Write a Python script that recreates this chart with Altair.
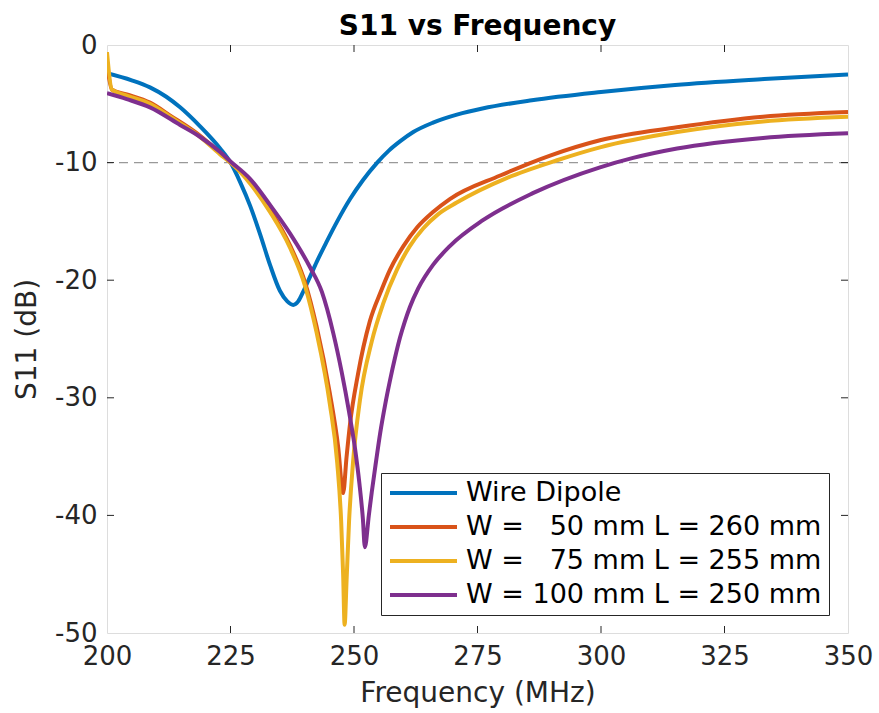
import altair as alt
import pandas as pd

# ---- data ----
series_names = [
    "Wire Dipole",
    "W = \u200750 mm L = 260 mm",
    "W = \u200775 mm L = 255 mm",
    "W = 100 mm L = 250 mm",
]
series_colors = ["#0072BD", "#D95319", "#EDB120", "#7E2F8E"]

wire_f = [200, 205, 208.7, 212, 214.8, 218.8, 222.9, 225, 227, 229, 231, 233, 235, 236.5,
          237.7, 238.7, 239.7, 241, 242.5, 244.5, 246.6, 249.2, 251.8, 254.7, 257, 259.3,
          262, 266, 271, 276, 286, 300, 315, 333, 350]
wire_db = [-2.4, -3.0, -3.6, -4.4, -5.3, -6.9, -8.8, -10.0, -11.7, -13.7, -16.1, -18.7, -20.9, -21.8,
           -22.1, -21.8, -21.0, -19.8, -18.4, -16.7, -15.0, -13.1, -11.5, -10.0, -9.0, -8.2,
           -7.4, -6.6, -5.9, -5.4, -4.7, -4.0, -3.4, -2.9, -2.5]

w50_f = [200, 201, 204, 208.7, 212.8, 218.8, 222.9, 225, 229, 233, 237, 240.1, 242.4, 245.1,
         246.8, 247.8, 248.5, 249.2, 250.8, 253.2, 255.5, 257.3, 260, 262.8, 266, 269.4, 279.6,
         289.7, 299.8, 315.4, 332.8, 350]
w50_db = [-1.7, -3.8, -4.2, -4.9, -6.0, -7.7, -9.2, -10.0, -11.6, -14.0, -17.0, -20.2, -23.9, -29.6,
          -34.2, -38.1, -35.0, -32.2, -28.0, -23.5, -20.9, -19.1, -17.1, -15.5, -14.2, -13.1, -11.1,
          -9.4, -8.1, -7.0, -6.1, -5.7]

w75_f = [200, 201, 204, 208.7, 212.8, 218.8, 222.9, 225, 229, 233, 237, 240.1, 242.4, 245.1,
         246.6, 247.4, 247.8, 248.1, 248.5, 249.0, 249.8, 251.2, 253.6, 255.9, 258.7, 261.3,
         264, 267, 270.8, 281, 291.1, 299.8, 315.4, 332.8, 350]
w75_db = [-0.6, -3.8, -4.3, -5.0, -6.1, -7.8, -9.3, -10.0, -11.8, -14.2, -17.2, -20.5, -24.4, -30.5,
          -35.5, -40.5, -45.0, -49.3, -45.5, -40.5, -35.5, -30.2, -25.2, -22.0, -19.1, -17.1,
          -15.6, -14.4, -13.4, -11.3, -9.8, -8.7, -7.4, -6.5, -6.1]

w100_f = [200, 204, 208.7, 214.8, 218.8, 222.9, 225, 229, 233, 237, 241.1, 243.5, 245.8, 247.5,
          249.0, 250.2, 251.1, 251.8, 252.2, 253.0, 253.6, 254.5, 255.3, 256.3, 257.3, 258.3,
          259.3, 260.3, 261.3, 263, 266, 269.4, 276.1, 286.2, 299.8, 306.5, 315.4, 332.8, 350]
w100_db = [-4.1, -4.6, -5.3, -6.8, -7.8, -9.1, -9.9, -11.4, -13.6, -16.0, -18.9, -21.0, -24.5, -27.8,
           -31.2, -34.3, -37.3, -40.3, -42.7, -40.0, -38.0, -35.3, -33.0, -30.6, -28.5, -26.6,
           -24.9, -23.5, -22.3, -20.7, -18.7, -17.1, -14.9, -12.6, -10.4, -9.6, -8.8, -7.9, -7.5]

x_ticks = [200, 225, 250, 275, 300, 325, 350]
y_ticks = [-50, -40, -30, -20, -10, 0]
inner_x_ticks = [225, 250, 275, 300, 325]
inner_y_ticks = [-40, -30, -20, -10]
threshold = [-10]

# ---- build table ----
rows = []
for name, fs, vs in zip(series_names, [wire_f, w50_f, w75_f, w100_f],
                        [wire_db, w50_db, w75_db, w100_db]):
    for i, (f, v) in enumerate(zip(fs, vs)):
        rows.append({"series": name, "f": f, "db": v, "i": i})
df = pd.DataFrame(rows)

W, H = 741, 588
FONT = "DejaVu Sans"
MINUS_FIX = "replace(datum.label, '\u2212', '-')"

xscale = alt.Scale(domain=[200, 350], nice=False, zero=False)
yscale = alt.Scale(domain=[-50, 0], nice=False, zero=False)

lines = alt.Chart(df).mark_line(strokeWidth=4, interpolate="monotone", clip=True).encode(
    x=alt.X("f:Q", scale=xscale,
            axis=alt.Axis(title="Frequency (MHz)", values=x_ticks, ticks=False, domain=False,
                          grid=False, labelFontSize=26, labelColor="#262626", labelPadding=10,
                          labelFlush=False, labelExpr=MINUS_FIX,
                          titleFontSize=28, titleFontWeight="normal", titleColor="#262626",
                          titlePadding=10, labelFont=FONT, titleFont=FONT)),
    y=alt.Y("db:Q", scale=yscale,
            axis=alt.Axis(title="S11 (dB)", values=y_ticks, ticks=False, domain=False,
                          grid=False, labelFontSize=26, labelColor="#262626", labelPadding=10,
                          labelFlush=False, labelExpr=MINUS_FIX,
                          titleFontSize=28, titleFontWeight="normal", titleColor="#262626",
                          titlePadding=13, labelFont=FONT, titleFont=FONT)),
    color=alt.Color("series:N",
                    scale=alt.Scale(domain=series_names, range=series_colors),
                    sort=series_names,
                    legend=alt.Legend(title=None, orient="none", legendX=274, legendY=428,
                                      padding=7, strokeColor="#262626", fillColor="white",
                                      symbolType="stroke", symbolSize=4489,
                                      symbolStrokeWidth=4, clipHeight=26, rowPadding=7,
                                      labelOffset=7, labelFontSize=27, labelFont=FONT,
                                      labelColor="#000000", labelLimit=800)),
    order="i:Q",
)

thr = alt.Chart(pd.DataFrame({"y": threshold})).mark_rule(
    color="#999999", strokeWidth=1.3, strokeDash=[9, 6]).encode(
    y=alt.Y("y:Q", scale=yscale))

xt = pd.DataFrame({"t": inner_x_ticks})
yt = pd.DataFrame({"t": inner_y_ticks})
tick_style = dict(color="#262626", strokeWidth=1)
xb = alt.Chart(xt).mark_rule(**tick_style).encode(
    x=alt.X("t:Q", scale=xscale), y=alt.value(H), y2=alt.value(H - 7))
xtop = alt.Chart(xt).mark_rule(**tick_style).encode(
    x=alt.X("t:Q", scale=xscale), y=alt.value(0), y2=alt.value(7))
yl = alt.Chart(yt).mark_rule(**tick_style).encode(
    y=alt.Y("t:Q", scale=yscale), x=alt.value(0), x2=alt.value(7))
yr = alt.Chart(yt).mark_rule(**tick_style).encode(
    y=alt.Y("t:Q", scale=yscale), x=alt.value(W), x2=alt.value(W - 7))

chart = alt.layer(thr, xb, xtop, yl, yr, lines).properties(
    width=W, height=H,
    title=alt.TitleParams("S11 vs Frequency", fontSize=28, fontWeight="bold", font=FONT,
                          color="#000000", anchor="middle", offset=-9),
    autosize=alt.AutoSizeParams(type="none"),
    padding={"left": 107, "top": 45, "right": 31, "bottom": 80},
).configure_view(stroke="#262626", strokeWidth=1).configure(background="white")

chart.save("out.html", embed_options={"renderer": "svg", "actions": False})
